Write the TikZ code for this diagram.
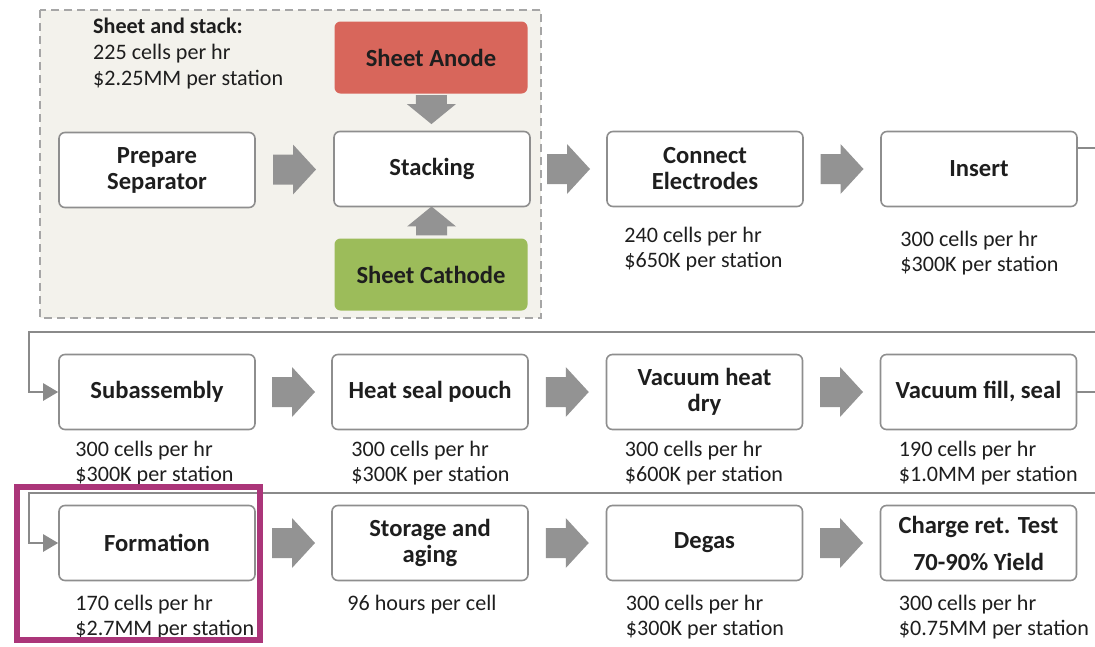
\documentclass[tikz,border=0pt]{standalone}
\usepackage{fontspec}
\setmainfont{Carlito}
\usetikzlibrary{calc,arrows.meta}
\definecolor{boxgray}{HTML}{8E8E8E}
\definecolor{arrowgray}{HTML}{939393}
\definecolor{linkgray}{HTML}{8A8A8A}
\definecolor{groupfill}{HTML}{F3F2EC}
\definecolor{groupline}{HTML}{A6A6A6}
\definecolor{anodered}{HTML}{D8665B}
\definecolor{cathodegreen}{HTML}{9CBC5A}
\definecolor{highlight}{HTML}{AB3579}
\definecolor{inkdark}{HTML}{1E1E1E}
\begin{document}
\begin{tikzpicture}[x=1pt,y=-1pt,
  stepbox/.style={draw=boxgray,line width=1.6pt,fill=white,rounded corners=6pt,
    minimum width=196pt,minimum height=75pt,align=center,text=inkdark,
    font=\fontsize{24.6}{26}\selectfont\bfseries},
  sheetbox/.style={stepbox,draw=none,minimum width=193pt,minimum height=72pt},
  rate/.style={anchor=north west,inner sep=0pt,align=left,text=inkdark,
    font=\fontsize{22.1}{25}\selectfont},
  link/.style={draw=linkgray,line width=2.4pt,-{Triangle[length=15pt,width=17pt]}},
  flowarrow/.pic={\fill[arrowgray] (-21.5,-15) -- (-1.5,-15) -- (-1.5,-25)
    -- (21.5,0) -- (-1.5,25) -- (-1.5,15) -- (-21.5,15) -- cycle;},
  feedarrow/.pic={\fill[arrowgray] (-14.5,-15.5) -- (-5.5,-15.5) -- (-5.5,-24.5)
    -- (14.5,0) -- (-5.5,24.5) -- (-5.5,15.5) -- (-14.5,15.5) -- cycle;}]
  \useasboundingbox (0,0) rectangle (1095,646);
  \clip (0,0) rectangle (1095,646);
  % sheet and stack group
  \draw[groupline,fill=groupfill,line width=1.5pt,dash pattern=on 8pt off 5pt]
    (40,10) rectangle (541,318);
  \node[rate,font=\fontsize{22.1}{26}\selectfont] (group) at (93,18)
    {\textbf{Sheet and stack:}\\225 cells per hr\\\$2.25MM per station};
  \node[sheetbox,fill=anodered] (anode) at (431,57.5) {Sheet Anode};
  \node[sheetbox,fill=cathodegreen] (cathode) at (431,274.5) {Sheet Cathode};
  % row 1
  \node[stepbox] (sep) at (157,170) {Prepare\\Separator};
  \node[stepbox] (stk) at (432,169) {Stacking};
  \node[stepbox] (elec) at (705,169) {Connect\\Electrodes};
  \node[stepbox] (ins) at (979,169) {Insert};
  % row 2
  \node[stepbox] (sub) at (157,392) {Subassembly};
  \node[stepbox] (heat) at (430,392) {Heat seal pouch};
  \node[stepbox] (vdry) at (704.5,392) {Vacuum heat\\dry};
  \node[stepbox] (vfill) at (978.5,392) {Vacuum fill, seal};
  % row 3
  \node[stepbox] (form) at (157,543) {Formation};
  \node[stepbox] (store) at (430,543) {Storage and\\aging};
  \node[stepbox] (degas) at (704.5,543) {Degas};
  \node[stepbox,font=\fontsize{24.6}{37}\selectfont\bfseries] (test) at (978.5,543)
    {Charge ret. Test\\70-90\% Yield};
  % rates
  \node[rate] (elecrate) at ([shift={(18,20)}]elec.south west)
    {240 cells per hr\\\$650K per station};
  \node[rate] (insrate) at ([shift={(20,24)}]ins.south west)
    {300 cells per hr\\\$300K per station};
  \node[rate] (subrate) at ([shift={(17,11)}]sub.south west)
    {300 cells per hr\\\$300K per station};
  \node[rate] (heatrate) at ([shift={(20,11)}]heat.south west)
    {300 cells per hr\\\$300K per station};
  \node[rate] (vdryrate) at ([shift={(19,11)}]vdry.south west)
    {300 cells per hr\\\$600K per station};
  \node[rate] (vfillrate) at ([shift={(19,11)}]vfill.south west)
    {190 cells per hr\\\$1.0MM per station};
  \node[rate] (formrate) at ([shift={(17,14)}]form.south west)
    {170 cells per hr\\\$2.7MM per station};
  \node[rate] (storerate) at ([shift={(16,14)}]store.south west)
    {96 hours per cell};
  \node[rate] (degasrate) at ([shift={(20,14)}]degas.south west)
    {300 cells per hr\\\$300K per station};
  \node[rate] (testrate) at ([shift={(19,14)}]test.south west)
    {300 cells per hr\\\$0.75MM per station};
  % block arrows
  \foreach \a/\b in {sep/stk,stk/elec,elec/ins,sub/heat,heat/vdry,vdry/vfill,
    form/store,store/degas,degas/test}
    \pic at ($(\a.east)!.5!(\b.west)$) {flowarrow};
  \pic[rotate=-90] at ($(anode.south)!.42!(stk.north)$) {feedarrow};
  \pic[rotate=90] at ($(stk.south)!.45!(cathode.north)$) {feedarrow};
  % row links
  \draw[link] ([yshift=21pt]ins.east) -- ++(40,0) |- (29,332) |- (sub.west);
  \draw[link] (vfill.east) -- ++(40,0) |- (29,493) |- (form.west);
  % highlight
  \draw[highlight,line width=6pt] (17,487) rectangle (260,640);
\end{tikzpicture}
\end{document}
